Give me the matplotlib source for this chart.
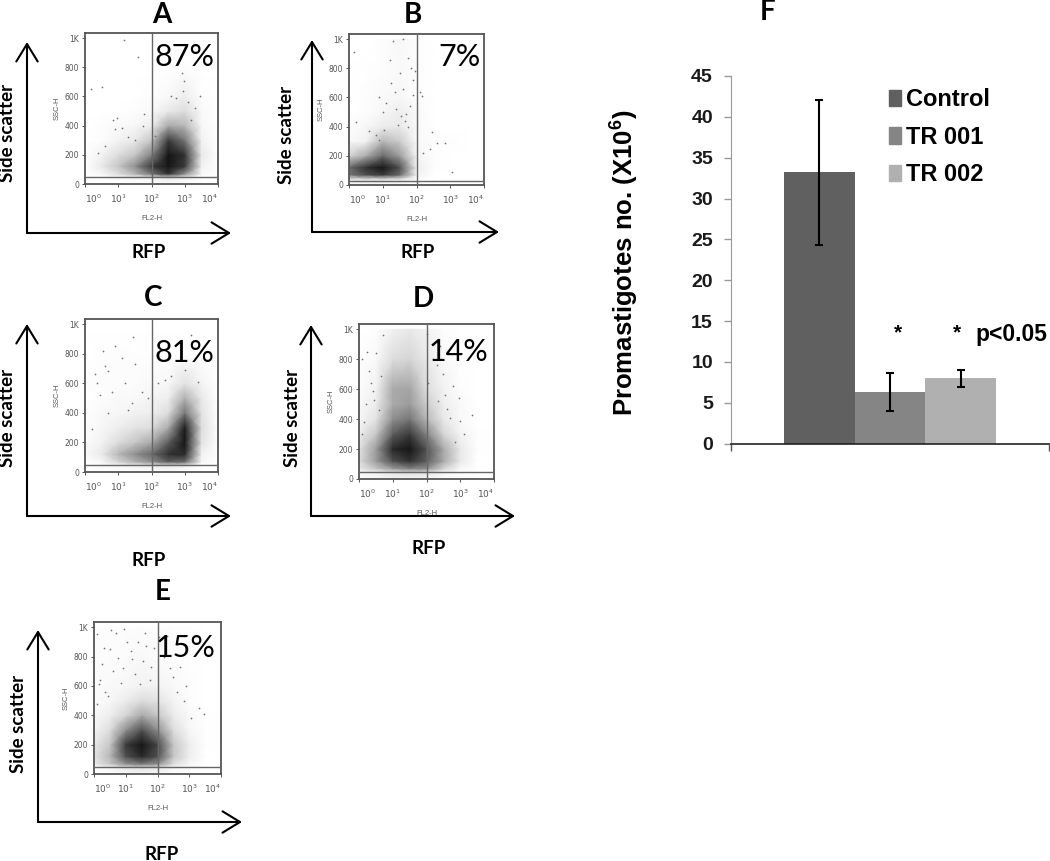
import numpy as np
import matplotlib
matplotlib.use("Agg")
import matplotlib.pyplot as plt
from matplotlib.colors import LinearSegmentedColormap
from matplotlib.patches import Patch

W, H = 1050, 861
plt.rcParams['mathtext.fontset'] = 'custom'
plt.rcParams['mathtext.bf'] = 'Liberation Sans:bold'
plt.rcParams['mathtext.rm'] = 'Liberation Sans'
plt.rcParams['mathtext.default'] = 'regular'

# ---- density (darkness 0-1 at grid nodes) ----
FL2_NODES = [1, 3.2, 10, 32, 100, 320, 1000, 3200, 10000]
SSC_NODES = [0, 40, 70, 120, 200, 300, 400, 500, 600, 800, 1000]
A_density = [
 [0,0,0,0,0,0,0,0,0],
 [0,0,.02,.03,.05,.08,.05,0,0],
 [0,.03,.12,.25,.5,.8,.4,.02,0],
 [0,.08,.2,.4,.75,.95,.75,.05,0],
 [0,.05,.12,.2,.45,.95,.8,.08,0],
 [0,.01,.04,.08,.2,.75,.5,.05,0],
 [0,.01,.02,.03,.06,.3,.25,.03,0],
 [0,0,0,.01,.02,.08,.12,.02,0],
 [0,0,0,0,.01,.02,.06,.01,0],
 [0,0,0,0,0,0,.01,0,0],
 [0,0,0,0,0,0,0,0,0]]
B_density = [
 [0,0,0,0,0,0,0,0,0],
 [.1,.12,.12,.1,.01,0,0,0,0],
 [.5,.65,.75,.55,.05,0,0,0,0],
 [.55,.8,.95,.65,.06,.01,0,0,0],
 [.15,.3,.55,.35,.04,.01,0,0,0],
 [.02,.05,.25,.18,.02,.01,.01,0,0],
 [.01,.03,.07,.08,.02,0,0,0,0],
 [0,.01,.03,.06,.02,0,0,0,0],
 [0,.01,.02,.03,.01,0,0,0,0],
 [0,.005,.01,.02,.01,0,0,0,0],
 [0,0,.01,.03,.01,0,0,0,0]]
C_density = [
 [0,0,0,0,0,0,0,0,0],
 [0,.02,.03,.05,.06,.08,.05,0,0],
 [0,.03,.15,.28,.4,.6,.55,.03,0],
 [.02,.08,.25,.4,.55,.8,.85,.05,0],
 [.01,.05,.12,.2,.3,.6,.95,.1,0],
 [.01,.03,.06,.1,.12,.3,.92,.12,0],
 [.005,.02,.03,.05,.06,.12,.5,.1,0],
 [0,.01,.02,.02,.04,.06,.28,.08,0],
 [.005,.01,.015,.015,.02,.03,.1,.04,0],
 [0,.01,.01,.005,.005,.005,.01,.005,0],
 [0,0,0,0,0,0,0,0,0]]
D_density = [
 [.01,.02,.03,.03,.02,.01,0,0,0],
 [.02,.05,.1,.12,.1,.04,.01,0,0],
 [.08,.2,.35,.45,.4,.15,.03,0,0],
 [.12,.35,.65,.8,.6,.3,.08,0,0],
 [.1,.35,.85,.95,.65,.3,.08,.005,0],
 [.06,.2,.6,.75,.45,.15,.04,.005,0],
 [.03,.1,.4,.5,.25,.08,.02,0,0],
 [.02,.07,.3,.35,.18,.06,.02,0,0],
 [.01,.05,.3,.32,.12,.05,.01,0,0],
 [.005,.02,.12,.15,.08,.02,.005,0,0],
 [0,.01,.05,.08,.05,.01,0,0,0]]
E_density = [
 [0,.01,.02,.03,.02,.01,0,0,0],
 [.01,.03,.08,.1,.08,.03,.01,0,0],
 [.08,.2,.4,.5,.4,.12,.03,0,0],
 [.1,.25,.65,.85,.65,.2,.06,0,0],
 [.08,.2,.75,.95,.7,.2,.06,.005,0],
 [.04,.12,.4,.65,.4,.12,.03,.005,0],
 [.02,.06,.15,.3,.2,.07,.02,.005,0],
 [.015,.03,.07,.12,.1,.04,.01,0,0],
 [.015,.02,.03,.05,.04,.02,.01,0,0],
 [.01,.015,.015,.02,.015,.01,.005,0,0],
 [.01,.015,.015,.015,.015,.01,.005,0,0]]

# ---- isolated events (log10 FL2, SSC) ----
A_log = [1.17,1.58,.18,.52,.95,.85,.9,1.12,1.75,1.77,2.98,2.95,2.6,3.45,2.93,3.1,3.3,2.75,.6,.4,1.3,1.5,2.1,3.2]
A_ssc = [985,870,650,668,452,436,377,384,395,482,708,635,600,600,760,560,520,590,260,210,320,300,330,440]
B_log = [1.3,1.6,1.75,1.85,1.95,.15,1.2,1.5,1.9,.9,1.1,1.6,1.9,2.1,2.15,3.05,2.6,2.85,2.45,1.55,1.7,1.4,.2,.9,1.0,1.35,1.8,1.25,1.65,1.45,1.05,1.75,.8,.6,2.2,2.4]
B_ssc = [990,1000,870,800,780,910,860,770,720,600,560,660,620,640,610,90,290,290,360,470,490,520,430,310,500,640,540,700,440,410,380,400,340,370,220,250]
C_log = [.55,.6,.7,1.1,1.45,.9,1.2,1.5,1.7,.3,.35,2.4,2.6,3.2,3.0,3.4,2.2,1.9,.8,1.4,.2,.7,1.3,.45]
C_ssc = [820,720,680,770,910,850,600,730,540,660,600,620,650,930,690,610,600,500,540,470,290,400,420,520]
D_log = [.1,.3,.5,.7,.4,3.35,2.95,2.8,2.5,2.2,3.1,.2,.6,2.6,2.4,2.0,.15,.35,2.3,2.55,2.7,2.15,2.05,2.35,.25,.45,.1,3.0,2.85,.65]
D_ssc = [800,720,840,960,590,430,540,620,700,800,300,500,460,470,890,970,380,640,760,560,410,900,640,520,850,530,300,390,250,690]
E_log = [.1,.3,.5,.7,.2,.9,1.2,1.4,.15,.45,3.3,3.45,2.9,2.5,2.2,2.7,1.6,1.9,.6,.1,.85,2.3,1.75,.35,.75,1.05,1.3,1.55,1.8,2.05,.25,.55,2.6,2.85,3.05,1.15,1.45,2.4,.95,1.65]
E_ssc = [950,860,850,960,640,720,780,900,610,530,450,410,600,660,800,730,960,860,700,480,620,940,640,560,790,900,680,770,730,930,750,980,560,500,380,840,610,720,990,870]

PANEL_NAMES = ['A', 'B', 'C', 'D', 'E']
PERCENTS = ['87%', '7%', '81%', '14%', '15%']
GATE_FL2 = 100
GATES_SSC = [45, 30, 45, 50, 45]
SSC_TICKS = [0, 200, 400, 600, 800, 1000]
SSC_LABELS = ['0', '200', '400', '600', '800', '1K']
FL2_TICKS = [1, 10, 100, 1000, 10000]

# ---- bar chart ----
GROUPS = ['Control', 'TR 001', 'TR 002']
MEANS = [33.2, 6.3, 8.0]
ERRORS = [8.85, 2.3, 1.0]
BAR_COLORS = ['#606060', '#858585', '#b0b0b0']
Y_TICKS = [0, 5, 10, 15, 20, 25, 30, 35, 40, 45]

fig = plt.figure(figsize=(W / 100, H / 100), dpi=100, facecolor='white')


def px_axes(x0, y0, x1, y1, **kw):
    return fig.add_axes([x0 / W, 1 - y1 / H, (x1 - x0) / W, (y1 - y0) / H], **kw)


cmap = LinearSegmentedColormap.from_list('ink', ['#ffffff', '#a0a0a0', '#4c4c4c', '#0c0c0c'], N=256)

BOXES = [(85, 33, 218, 184), (349, 34, 484, 185), (85, 319, 218, 472), (359, 324, 494, 479), (94, 622, 221, 774)]
DENS = [A_density, B_density, C_density, D_density, E_density]
LOGS = [A_log, B_log, C_log, D_log, E_log]
SSCS = [A_ssc, B_ssc, C_ssc, D_ssc, E_ssc]

for i in range(5):
    ax = px_axes(*BOXES[i])
    ax.set_xscale('log')
    X, Y = np.meshgrid(FL2_NODES, SSC_NODES)
    ax.pcolormesh(X, Y, np.array(DENS[i]), cmap=cmap, vmin=0, vmax=1, shading='gouraud', rasterized=True, zorder=1)
    ax.scatter(10 ** np.array(LOGS[i]), SSCS[i], s=1.5, color='#707070', linewidths=0, zorder=2)
    ax.axvline(GATE_FL2, color='#666666', lw=1.0, zorder=3)
    ax.axhline(GATES_SSC[i], color='#666666', lw=1.0, zorder=3)
    ax.set_xlim(1, 10000)
    ax.set_ylim(0, 1035)
    ax.set_xticks(FL2_TICKS)
    ax.set_yticks(SSC_TICKS)
    ax.set_yticklabels(SSC_LABELS)
    ax.tick_params(axis='both', which='major', labelsize=5.5, colors='#555555', length=2.5, width=.7, pad=1.5)
    ax.tick_params(axis='x', which='minor', length=1.5, width=.5, colors='#555555')
    ax.tick_params(axis='x', which='major', pad=4, labelsize=6.5)
    labs = ax.get_xticklabels()
    labs[0].set_ha('left')
    labs[-1].set_ha('right')
    for s in ax.spines.values():
        s.set_color('#555555')
        s.set_linewidth(1.3)
    ax.set_xlabel('FL2-H', fontsize=5.5, color='#555555', labelpad=7, family='Liberation Sans')
    ax.set_ylabel('SSC-H', fontsize=5.5, color='#555555', labelpad=3, family='Liberation Sans')

# overlay in pixel space for arrows and panel text
ov = fig.add_axes([0, 0, 1, 1], zorder=10)
ov.set_xlim(0, W)
ov.set_ylim(H, 0)
ov.axis('off')
ov.patch.set_alpha(0)

ARROWS = [(27, 233, 42, 231), (312, 232, 40, 499), (27, 516, 324, 231), (311, 516, 325, 515), (38, 822, 630, 242)]
for ax_x, ax_y, top, right in ARROWS:
    for tip in [(ax_x, top), (right, ax_y)]:
        ov.annotate('', xy=tip, xytext=(ax_x, ax_y), xycoords='data', textcoords='data',
                    arrowprops=dict(arrowstyle='->,head_length=0.9,head_width=0.55', lw=1.5, color='black',
                                    shrinkA=0, shrinkB=0, mutation_scale=14))

TITLE_POS = [(162, 15), (413, 15), (153, 298), (423, 299), (163, 592)]
SIDE_POS = [(8, 133), (286, 135), (8, 418), (293, 418), (19, 724)]
RFP_POS = [(149, 252), (418, 252), (149, 560), (429, 548), (162, 854)]
PCT_POS = [(184, 57), (460, 57), (184, 353), (458, 352), (185, 648)]
for i in range(5):
    ov.text(*TITLE_POS[i], PANEL_NAMES[i], family='Lato', weight='bold', fontsize=20, ha='center', va='center')
    ov.text(*SIDE_POS[i], 'Side scatter', family='Lato', weight='bold', fontsize=13.5, rotation=90, ha='center', va='center')
    ov.text(*RFP_POS[i], 'RFP', family='Lato', weight='bold', fontsize=13.5, ha='center', va='center')
    ov.text(*PCT_POS[i], PERCENTS[i], family='Lato', fontsize=22, ha='center', va='center')
ov.text(768, 12, 'F', family='Lato', weight='bold', fontsize=20, ha='center', va='center')

# bar chart
bx = px_axes(731, 76, 1049, 443.7)
pos = np.arange(len(GROUPS)) - 1
bx.bar(pos, MEANS, width=1.0, color=BAR_COLORS, zorder=2)
bx.errorbar(pos, MEANS, yerr=ERRORS, fmt='none', ecolor='black', elinewidth=1.5, capsize=3, capthick=1.5, zorder=3)
bx.set_xlim(-2.24, 2.24)
bx.set_ylim(0, 45)
bx.set_yticks(Y_TICKS)
bx.set_xticks([-2.24, 2.24])
bx.set_xticklabels([])
bx.spines['top'].set_visible(False)
bx.spines['right'].set_visible(False)
bx.spines['left'].set_color('#999999')
bx.spines['bottom'].set_color('#222222')
bx.spines['bottom'].set_linewidth(1.2)
bx.tick_params(axis='y', direction='out', length=5, color='#999999', width=1, pad=8, labelsize=14)
bx.tick_params(axis='x', direction='out', length=5, color='#555555', width=1)
for t in bx.get_yticklabels():
    t.set_family('Liberation Sans')
    t.set_weight('bold')
    t.set_color('#1a1a1a')
bx.set_ylabel(r'Promastigotes no. (X10$\mathbf{^{6}}$)', family='Liberation Sans', weight='bold', fontsize=18.5, va='center')
bx.yaxis.set_label_coords(-0.333, 0.493)
handles = [Patch(color=c) for c in BAR_COLORS]
leg = bx.legend(handles, GROUPS, frameon=False, loc='upper left', bbox_to_anchor=(0.497, 0.967), borderaxespad=0, borderpad=0,
                handlelength=0.5, handleheight=0.7, handletextpad=0.2, labelspacing=0.62,
                prop={'family': 'Liberation Sans', 'weight': 'bold', 'size': 17})
ov.text(898, 333, '*', family='Liberation Sans', weight='bold', fontsize=15, ha='center', va='center')
ov.text(957, 333, '*', family='Liberation Sans', weight='bold', fontsize=15, ha='center', va='center')
ov.text(1011, 335, 'p<0.05', family='Liberation Sans', weight='bold', fontsize=16.5, ha='center', va='center')

fig.savefig('out.png', dpi=100, facecolor='white')
